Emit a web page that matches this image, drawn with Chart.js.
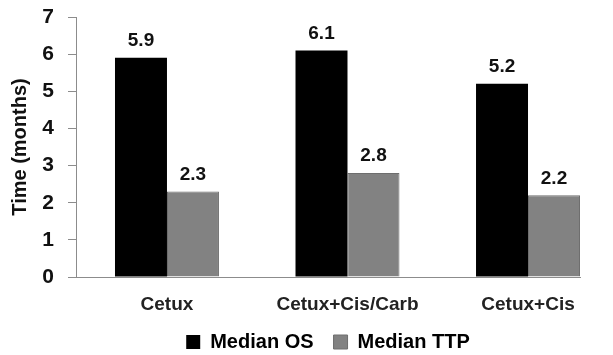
<!DOCTYPE html>
<html>
<head>
<meta charset="utf-8">
<script src="https://cdn.jsdelivr.net/npm/chart.js@4/dist/chart.umd.min.js"></script>
<style>
    html, body { margin:0; padding:0; background:#ffffff; overflow:hidden }
    #wrap { width:613px; height:355px; position:relative }
</style>
</head>
<body>
<div id="wrap"><canvas id="timeChart"></canvas></div>
<script>

// arms and median times (months)
const arms = ["Cetux", "Cetux+Cis/Carb", "Cetux+Cis"]
const medianOS = [5.9, 6.1, 5.2]
const medianTTP = [2.3, 2.8, 2.2]
const yTicks = [0, 1, 2, 3, 4, 5, 6, 7]

const FONT = "'Liberation Sans', Arial, sans-serif"
const AXIS_GREY = "#8c8c8c"

function toPoints(
    values
){
    return values.map(
        (v, i) => ({ x:i, y:v })
    )
}

// writes the value above every bar
const valueLabels = {
    id:"valueLabels",
    afterDatasetsDraw(chart){
        const ctx = chart.ctx
        ctx.save()
        ctx.font = "bold 19px " + FONT
        ctx.fillStyle = "#111111"
        ctx.textAlign = "center"
        ctx.textBaseline = "middle"
        chart.data.datasets.forEach((ds, di) => {
            chart.getDatasetMeta(di).data.forEach((bar, i) => {
                ctx.fillText(
                    ds.data[i].y.toFixed(1),
                    bar.x,
                    bar.y - 17
                )
            })
        })
        ctx.restore()
    }
}

new Chart(
    document.getElementById("timeChart"),
    {
        type:"bar",

        data:{
            datasets:[
                {
                    label:"Median OS",
                    data:toPoints(medianOS),
                    backgroundColor:"#000000",
                    borderWidth:0
                },
                {
                    label:"Median TTP",
                    data:toPoints(medianTTP),
                    backgroundColor:"#828282",
                    borderColor:"#6e6e6e",
                    borderWidth:1
                }
            ]
        },

        options:{
            responsive:true,
            maintainAspectRatio:false,
            animation:false,
            categoryPercentage:0.576,
            barPercentage:1,
            layout:{
                padding:{ top:17, right:33, bottom:-7, left:0 }
            },
            plugins:{
                tooltip:{ enabled:false },
                legend:{
                    position:"bottom",
                    fullSize:false,
                    labels:{
                        boxWidth:14,
                        boxHeight:14,
                        padding:20,
                        color:"#000000",
                        font:{ family:FONT, size:20, weight:"bold" }
                    }
                }
            },
            scales:{
                x:{
                    type:"linear",
                    offset:false,
                    min:-0.504,
                    max:2.288,
                    grid:{ display:false, drawTicks:false },
                    border:{ display:true, color:AXIS_GREY, width:1 },
                    afterBuildTicks(scale){
                        scale.ticks = arms.map((a, i) => ({ value:i }))
                    },
                    // mirrored labels are not clipped, so they can sit
                    // a little lower than the axis box
                    afterFit(scale){
                        scale.height = 35
                    },
                    ticks:{
                        mirror:true,
                        padding:-37.5,
                        maxRotation:0,
                        autoSkip:false,
                        color:"#222222",
                        font:{ family:FONT, size:19, weight:"bold", lineHeight:1 },
                        callback:(v) => arms[v]
                    }
                },
                y:{
                    min:yTicks[0],
                    max:yTicks[yTicks.length - 1],
                    afterBuildTicks(scale){
                        scale.ticks = yTicks.map((v) => ({ value:v }))
                    },
                    afterFit(scale){
                        scale.width = 76
                        scale.paddingTop = 0
                        scale.paddingBottom = 0
                    },
                    grid:{
                        drawOnChartArea:false,
                        drawTicks:true,
                        tickLength:8,
                        color:AXIS_GREY
                    },
                    border:{ display:true, color:AXIS_GREY, width:1 },
                    ticks:{
                        padding:14,
                        color:"#111111",
                        font:{ family:FONT, size:21, weight:"bold" }
                    },
                    title:{
                        display:true,
                        text:"Time (months)",
                        color:"#111111",
                        padding:{ top:8, bottom:10 },
                        font:{ family:FONT, size:20, weight:"bold" }
                    }
                }
            }
        },

        plugins:[valueLabels]
    }
)
</script>
</body>
</html>
